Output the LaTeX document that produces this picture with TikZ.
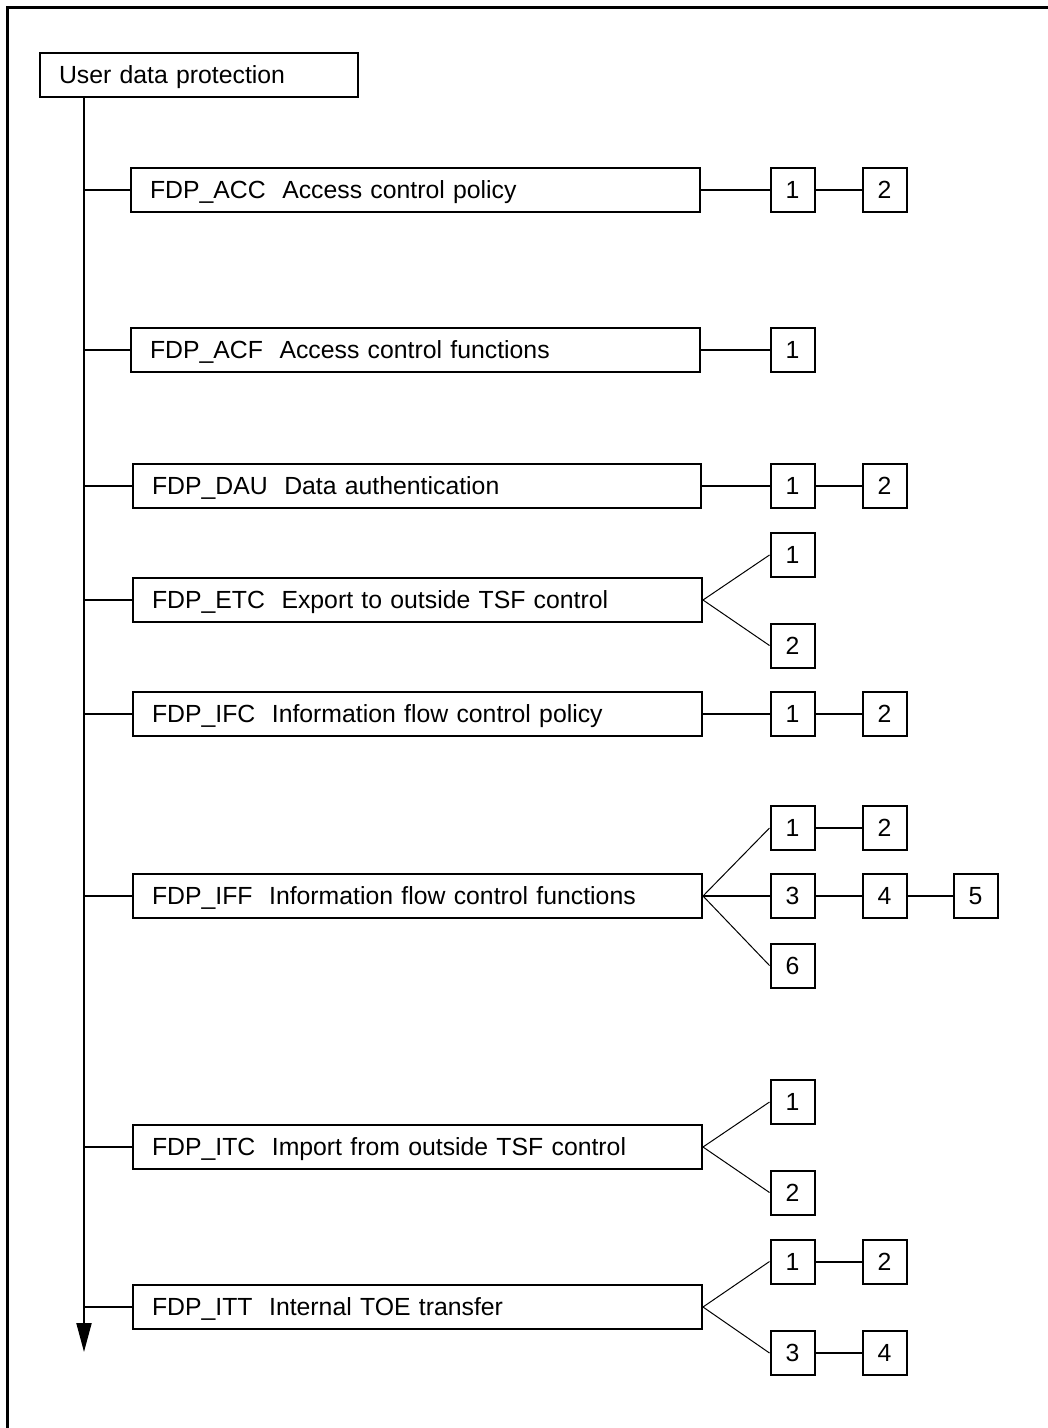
\documentclass[tikz,border=0pt]{standalone}
\usepackage{fontspec}
\setmainfont{Liberation Sans}
\usetikzlibrary{arrows.meta}
\tikzset{
  mainbox/.style={draw, line width=2pt, rectangle, anchor=west, minimum height=44pt,
    inner ysep=0pt, inner xsep=19pt, text height=21pt, text depth=4pt, align=left,
    font=\fontsize{24.8}{30}\selectfont},
  numbox/.style={draw, line width=2pt, rectangle, minimum width=44pt, minimum height=44pt,
    inner sep=0pt, text height=21pt, text depth=4pt, font=\fontsize{24.8}{30}\selectfont},
  thick link/.style={line width=2pt},
  thin link/.style={line width=1pt},
  frame/.style={line width=3pt}
}
\begin{document}
\begin{tikzpicture}[x=1pt,y=-1pt]
\useasboundingbox (0,0) rectangle (1048,1428);
% frame (top and left edges)
\draw[frame] (7.5,1428) -- (7.5,7.5) -- (1048,7.5);

% root
\node[mainbox, text width=280pt] (root) at (39,75) {User data protection};

% family boxes
\node[mainbox, text width=531pt] (acc) at (130,190)   {FDP\_ACC\ \ Access control policy};
\node[mainbox, text width=531pt] (acf) at (130,349.5) {FDP\_ACF\ \ Access control functions};
\node[mainbox, text width=530pt] (dau) at (132,486)   {FDP\_DAU\ \ Data authentication};
\node[mainbox, text width=531pt] (etc) at (132,600)   {FDP\_ETC\ \ Export to outside TSF control};
\node[mainbox, text width=531pt] (ifc) at (132,714)   {FDP\_IFC\ \ Information flow control policy};
\node[mainbox, text width=531pt] (iff) at (132,896)   {FDP\_IFF\ \ Information flow control functions};
\node[mainbox, text width=531pt] (itc) at (132,1147)  {FDP\_ITC\ \ Import from outside TSF control};
\node[mainbox, text width=531pt] (itt) at (132,1307)  {FDP\_ITT\ \ Internal TOE transfer};

% trunk
\coordinate (trunktop) at (84,98);
\coordinate (trunkend) at (84,1352);
\draw[thick link, -{Triangle[length=29pt,width=15pt]}] (trunktop) -- (trunkend);
\foreach \n in {acc,acf,dau,etc,ifc,iff,itc,itt}
  \draw[thick link] (\n.west -| trunktop) -- (\n.west);

% component boxes
\node[numbox] (acc1) at (792.5,190) {1};
\node[numbox] (acc2) at (884.5,190) {2};
\node[numbox] (acf1) at (792.5,349.5) {1};
\node[numbox] (dau1) at (792.5,486) {1};
\node[numbox] (dau2) at (884.5,486) {2};
\node[numbox] (etc1) at (792.5,555) {1};
\node[numbox] (etc2) at (792.5,645.5) {2};
\node[numbox] (ifc1) at (792.5,714) {1};
\node[numbox] (ifc2) at (884.5,714) {2};
\node[numbox] (iff1) at (792.5,828) {1};
\node[numbox] (iff2) at (884.5,828) {2};
\node[numbox] (iff3) at (792.5,896) {3};
\node[numbox] (iff4) at (884.5,896) {4};
\node[numbox] (iff5) at (975.5,896) {5};
\node[numbox] (iff6) at (792.5,965.5) {6};
\node[numbox] (itc1) at (792.5,1102) {1};
\node[numbox] (itc2) at (792.5,1192.5) {2};
\node[numbox] (itt1) at (792.5,1261.5) {1};
\node[numbox] (itt2) at (884.5,1261.5) {2};
\node[numbox] (itt3) at (792.5,1353) {3};
\node[numbox] (itt4) at (884.5,1353) {4};

% straight links
\draw[thick link] (acc.east) -- (acc1.west);
\draw[thick link] (acc1.east) -- (acc2.west);
\draw[thick link] (acf.east) -- (acf1.west);
\draw[thick link] (dau.east) -- (dau1.west);
\draw[thick link] (dau1.east) -- (dau2.west);
\draw[thick link] (ifc.east) -- (ifc1.west);
\draw[thick link] (ifc1.east) -- (ifc2.west);
\draw[thick link] (iff.east) -- (iff3.west);
\draw[thick link] (iff1.east) -- (iff2.west);
\draw[thick link] (iff3.east) -- (iff4.west);
\draw[thick link] (iff4.east) -- (iff5.west);
\draw[thick link] (itt1.east) -- (itt2.west);
\draw[thick link] (itt3.east) -- (itt4.west);

% fanned links
\draw[thin link] (etc1.west) -- (etc.east) -- (etc2.west);
\draw[thin link] (iff1.west) -- (iff.east) -- (iff6.west);
\draw[thin link] (itc1.west) -- (itc.east) -- (itc2.west);
\draw[thin link] (itt1.west) -- (itt.east) -- (itt3.west);
\end{tikzpicture}
\end{document}
